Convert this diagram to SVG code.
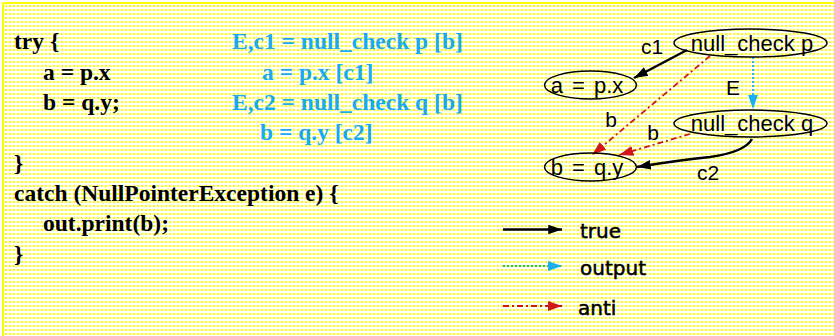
<svg xmlns="http://www.w3.org/2000/svg" width="834" height="336" viewBox="0 0 834 336">
<defs>
<pattern id="dots" width="4" height="4" patternUnits="userSpaceOnUse">
<rect width="4" height="4" fill="#ffffff"/>
<rect x="1" y="1" width="2" height="2" fill="#ffff00"/>
</pattern>
<marker id="ah-black" viewBox="0 0 10 10" refX="10" refY="5" markerWidth="5.5" markerHeight="5.5" markerUnits="strokeWidth" orient="auto"><path d="M0,1.5 L10,5 L0,8.5 z" fill="#000"/></marker>
<marker id="ah-blue" viewBox="0 0 10 10" refX="10" refY="5" markerWidth="8" markerHeight="8" markerUnits="strokeWidth" orient="auto"><path d="M0,1.5 L10,5 L0,8.5 z" fill="#1ab0f0"/></marker>
<marker id="ah-red" viewBox="0 0 10 10" refX="10" refY="5" markerWidth="8" markerHeight="8" markerUnits="strokeWidth" orient="auto"><path d="M0,1.5 L10,5 L0,8.5 z" fill="#d01818"/></marker>
</defs>
<style>
.code{font-family:"Liberation Serif","Times New Roman",serif;font-weight:bold;font-size:23.5px;fill:#000}
.blue{fill:#1aaaf0}
.node ellipse{fill:none;stroke:#000;stroke-width:1.5}
.node text{font-family:"Liberation Sans",Arial,sans-serif;font-size:22px;fill:#000;text-anchor:middle}
.lbl{font-family:"Liberation Sans",Arial,sans-serif;font-size:21px;fill:#000;text-anchor:middle}
.true{fill:none;stroke:#000;stroke-width:2.5;marker-end:url(#ah-black)}
.out{fill:none;stroke:#1ab0f0;stroke-width:1.8;stroke-dasharray:2 2;marker-end:url(#ah-blue)}
.anti{fill:none;stroke:#d01818;stroke-width:1.8;stroke-dasharray:6 3 2 3;marker-end:url(#ah-red)}
.leg{font-family:"Comic Sans MS","DejaVu Sans",sans-serif;font-size:20px;fill:#000;stroke:#000;stroke-width:0.5}
</style>
<rect x="3" y="3" width="840" height="345" fill="url(#dots)" stroke="#ffff00" stroke-width="2"/>
<g id="code">
<text class="code" x="14" y="49">try {</text>
<text class="code" x="43" y="79.5">a = p.x</text>
<text class="code" x="43" y="110">b = q.y;</text>
<text class="code" x="14" y="170.5">}</text>
<text class="code" x="14" y="201">catch (NullPointerException e) {</text>
<text class="code" x="43" y="231">out.print(b);</text>
<text class="code" x="14" y="261.5">}</text>
</g>
<g id="ir">
<text class="code blue" x="232" y="49">E,c1 = null_check p [b]</text>
<text class="code blue" x="262" y="79.5">a = p.x [c1]</text>
<text class="code blue" x="232" y="110">E,c2 = null_check q [b]</text>
<text class="code blue" x="260" y="140">b = q.y [c2]</text>
</g>
<g id="connectors">
<path class="true" d="M687,50 L634,78"/>
<path class="out" d="M753,57 L753,109"/>
<path class="anti" d="M710,56 L592,155"/>
<path class="anti" d="M690,134 L619,155"/>
<path class="true" d="M752,139 Q745,152 710,157 Q680,160 637,167"/>
<text class="lbl" x="652" y="54">c1</text>
<text class="lbl" x="733" y="95">E</text>
<text class="lbl" x="611" y="127">b</text>
<text class="lbl" x="653" y="140">b</text>
<text class="lbl" x="708" y="180">c2</text>
</g>
<g id="n_nullp" class="node"><ellipse cx="750.5" cy="43" rx="76.5" ry="14"/><text x="752" y="50.5">null_check p</text></g>
<g id="n_apx" class="node"><ellipse cx="590.5" cy="85" rx="46" ry="14"/><text x="587" y="92.5" word-spacing="3">a = p.x</text></g>
<g id="n_nullq" class="node"><ellipse cx="750.5" cy="123.5" rx="76.5" ry="13.5"/><text x="752" y="131">null_check q</text></g>
<g id="n_bqy" class="node"><ellipse cx="590.5" cy="167" rx="46" ry="14"/><text x="587" y="174.5" word-spacing="3">b = q.y</text></g>
<g id="legend">
<path class="true" d="M503,229.5 L562,229.5"/>
<path class="out" d="M503,266 L562,266"/>
<path class="anti" d="M503,306 L562,306"/>
<text class="leg" x="580" y="238">true</text>
<text class="leg" x="580" y="275">output</text>
<text class="leg" x="578" y="315">anti</text>
</g>
</svg>
